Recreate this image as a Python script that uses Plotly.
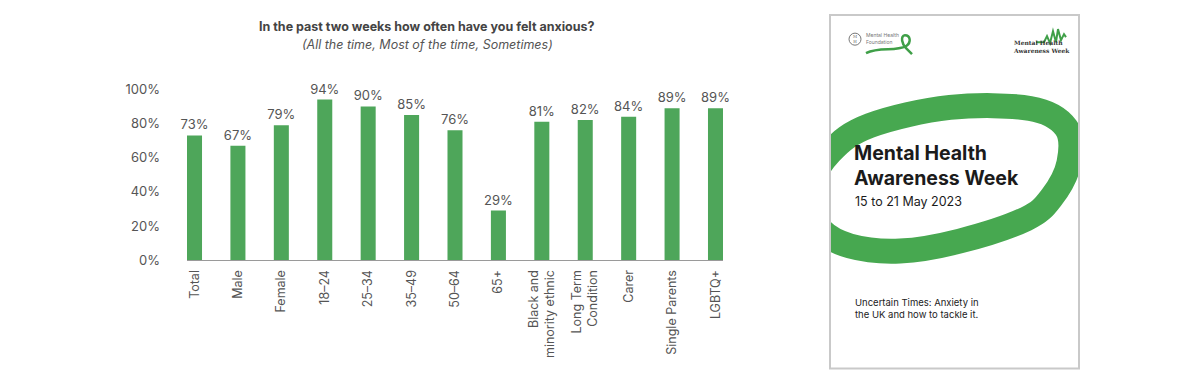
import numpy as np
import plotly.graph_objects as go

# ---------------- data ----------------
categories = ["Total", "Male", "Female", "18–24", "25–34", "35–49", "50–64", "65+",
              "Black and<br>minority ethnic", "Long Term<br>Condition", "Carer",
              "Single Parents", "LGBTQ+"]
values = [73, 67, 79, 94, 90, 85, 76, 29, 81, 82, 84, 89, 89]
value_labels = [f"{v}%" for v in values]
y_ticks = [0, 20, 40, 60, 80, 100]
y_tick_labels = [f"{t}%" for t in y_ticks]

title_text = "<b>In the past two weeks how often have you felt anxious?</b>"
subtitle_text = "<i>(All the time, Most of the time, Sometimes)</i>"

W, H = 1200, 382
SY = 0.975          # vertical correction observed in the rendered picture
BAR_GREEN = "#4ea65a"
RING_GREEN = "#47a850"
FONT = "Inter"


def px(x):
    return x / W


def py(y):
    return (H - y / SY) / H


fig = go.Figure()
fig.add_trace(go.Bar(
    x=categories, y=values, width=0.346,
    marker=dict(color=BAR_GREEN, line=dict(width=0)),
    text=value_labels, textposition="outside", constraintext="none",
    textfont=dict(family=FONT, size=13, color="#555555"),
    cliponaxis=False, hoverinfo="skip", showlegend=False,
    xaxis="x", yaxis="y",
))

# invisible helper trace for the cover subplot
fig.add_trace(go.Scatter(x=[None], y=[None], xaxis="x2", yaxis="y2",
                         showlegend=False, hoverinfo="skip"))

fig.update_layout(
    width=W, height=H, autosize=False,
    margin=dict(l=0, r=0, t=0, b=0),
    paper_bgcolor="white", plot_bgcolor="rgba(0,0,0,0)",
    font=dict(family=FONT, color="#555555"),
    bargap=0.65,
    xaxis=dict(
        domain=[px(187), px(723)], range=[-0.173, 12.173],
        showline=True, linecolor="#9a9a9a", linewidth=1,
        showgrid=False, zeroline=False, ticks="",
        ticklabelstandoff=4,
        tickangle=-90, tickfont=dict(family=FONT, size=12.5, color="#555555"),
        fixedrange=True,
    ),
    yaxis=dict(
        domain=[py(259), py(80)], range=[0, 105.3],
        tickvals=y_ticks, ticktext=y_tick_labels,
        showline=False, showgrid=False, zeroline=False, ticks="",
        ticklabelstandoff=26,
        tickfont=dict(family=FONT, size=13, color="#555555"),
        fixedrange=True,
    ),
    xaxis2=dict(domain=[px(830), px(1079)], range=[830, 1079], visible=False,
                anchor="y2", fixedrange=True),
    yaxis2=dict(domain=[py(367), py(15)], range=[367, 15], visible=False,
                anchor="x2", fixedrange=True),
)

# titles
fig.add_annotation(xref="paper", yref="paper", x=px(427), y=py(26),
                   text=title_text, showarrow=False, xanchor="center", yanchor="middle",
                   font=dict(family=FONT, size=12.5, color="#444444"))
fig.add_annotation(xref="paper", yref="paper", x=px(427), y=py(44),
                   text=subtitle_text, showarrow=False, xanchor="center", yanchor="middle",
                   font=dict(family=FONT, size=12.5, color="#555555"))

# ---------------- cover illustration ----------------
# tilted ring drawn as a smooth closed curve (Catmull-Rom -> cubic Bezier)
ring_pts = np.array([
    (805, 195), (830, 152), (870, 125), (950, 107), (1030, 108), (1066, 127),
    (1069, 162), (1052, 196), (1026, 218), (960, 240), (900, 250), (850, 245),
    (820, 228),
], dtype=float)
n = len(ring_pts)
seg = [f"M {ring_pts[0][0]:.1f},{ring_pts[0][1]:.1f}"]
for i in range(n):
    p0, p1 = ring_pts[i - 1], ring_pts[i]
    p2, p3 = ring_pts[(i + 1) % n], ring_pts[(i + 2) % n]
    c1 = p1 + (p2 - p0) / 6
    c2 = p2 - (p3 - p1) / 6
    seg.append(f"C {c1[0]:.1f},{c1[1]:.1f} {c2[0]:.1f},{c2[1]:.1f} {p2[0]:.1f},{p2[1]:.1f}")
ring_path = " ".join(seg) + " Z"
fig.add_shape(type="path", path=ring_path, xref="x2", yref="y2",
              line=dict(color=RING_GREEN, width=25), fillcolor="rgba(0,0,0,0)",
              layer="below")

# border of the cover
fig.add_shape(type="rect", xref="paper", yref="paper",
              x0=px(830), x1=px(1079), y0=py(367), y1=py(15),
              line=dict(color="#c9c9c9", width=2), fillcolor="rgba(0,0,0,0)")

# foundation logo (top left)
fig.add_shape(type="circle", xref="x2", yref="y2", x0=849, x1=861, y0=33, y1=45,
              line=dict(color="#777777", width=1))
fig.add_annotation(xref="x2", yref="y2", x=855, y=39, text="M<br>H", showarrow=False,
                   font=dict(family="DejaVu Serif", size=4, color="#666666"))
fig.add_annotation(xref="x2", yref="y2", x=864, y=38.5, text="Mental Health<br>Foundation",
                   showarrow=False, xanchor="left", yanchor="middle", align="left",
                   font=dict(family=FONT, size=5, color="#777777"))
fig.add_shape(type="path", xref="x2", yref="y2",
              path="M 866,53 C 880,46 895,52 906,46 C 912,42 910,35 905,35 "
                   "C 900,36 902,44 906,48 L 912,54",
              line=dict(color="#3f9f48", width=2.5))

# awareness week logo (top right)
fig.add_shape(type="path", xref="x2", yref="y2",
              path="M 1036,42 L 1044,42 L 1047,36 L 1050,43 L 1053,31 L 1056,42 "
                   "L 1058,29 L 1061,40 L 1064,34 L 1066,37",
              line=dict(color="#3f9f48", width=2))
fig.add_annotation(xref="x2", yref="y2", x=1011, y=46.5,
                   text="<b>Mental Health<br>Awareness Week</b>",
                   showarrow=False, xanchor="left", yanchor="middle", align="left",
                   font=dict(family="DejaVu Serif", size=6, color="#333333"))

# cover texts
fig.add_annotation(xref="x2", yref="y2", x=852, y=165,
                   text="<b>Mental Health<br>Awareness Week</b>", showarrow=False,
                   xanchor="left", yanchor="middle", align="left",
                   font=dict(family=FONT, size=19.5, color="#1b1b1b"))
fig.add_annotation(xref="x2", yref="y2", x=853, y=201,
                   text="15 to 21 May 2023", showarrow=False,
                   xanchor="left", yanchor="middle",
                   font=dict(family=FONT, size=12.5, color="#1b1b1b"))
fig.add_annotation(xref="x2", yref="y2", x=853, y=307.5,
                   text="Uncertain Times: Anxiety in<br>the UK and how to tackle it.",
                   showarrow=False, xanchor="left", yanchor="middle", align="left",
                   font=dict(family=FONT, size=9.5, color="#222222"))

fig.write_html(
    "out.html",
    config={"displayModeBar": False},
    post_script="document.body.style.margin='0';document.body.style.overflow='hidden';",
)
